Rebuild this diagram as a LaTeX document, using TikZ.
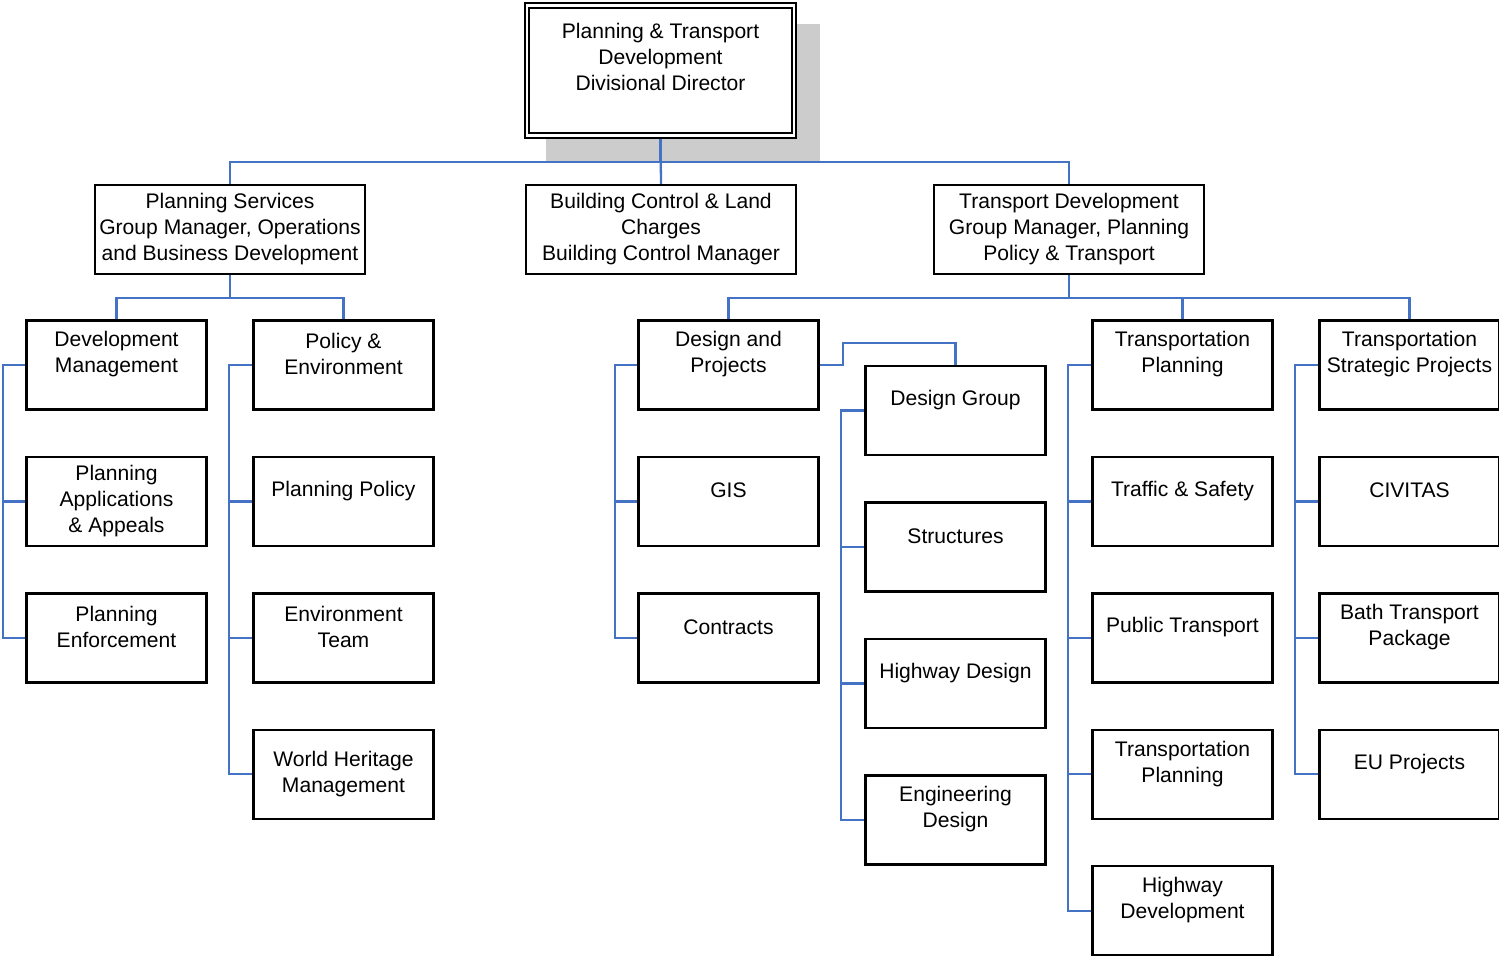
\documentclass[tikz,border=0pt]{standalone}
\usepackage{fontspec}
\setmainfont{Liberation Sans}
\usetikzlibrary{positioning, backgrounds}
\definecolor{linkblue}{RGB}{68,114,196}
\definecolor{shadegray}{RGB}{204,204,204}
\tikzset{%
  head/.style    = {draw, double, line width=1.2pt, double distance=1.4pt,
    fill=white, minimum width=5.34cm, minimum height=2.6cm},
  group/.style   = {draw, line width=1.4pt, fill=white, minimum width=5.4cm,
    minimum height=1.78cm, inner xsep=1pt, align=center},
  unit/.style    = {draw, line width=1.4pt, fill=white, minimum width=3.6cm,
    minimum height=1.78cm, inner xsep=1pt, align=center, node distance=0.9cm},
  toptext/.style = {label={[anchor=center, yshift=-0.7cm, align=center]north:{#1}}},
  link/.style    = {draw, line width=1.3pt, linkblue}
}

\begin{document}
\begin{tikzpicture}[x=0.02cm, y=-0.02cm, font=\fontsize{12pt}{14.8pt}\selectfont]

\useasboundingbox (0,0) rectangle (1499,957);

% director
\node [head, label={[anchor=center, yshift=0.27cm, align=center]center:{Planning \& Transport\\Development\\Divisional Director}}] (dir) at (660.5,70.5) {};

% group managers
\node [group] (plansvc) at (230,229.5) {Planning Services\\Group Manager, Operations\\and Business Development};
\node [group] (bldctrl) at (661,229.5) {Building Control \& Land\\Charges\\Building Control Manager};
\node [group] (trandev) at (1069,229.5) {Transport Development\\Group Manager, Planning\\Policy \& Transport};

% planning services teams
\node [unit, toptext={Development\\Management}] (devman) at (116.5,365) {};
\node [unit, below=of devman] (planapp) {Planning\\Applications\\\& Appeals};
\node [unit, toptext={Planning\\Enforcement}, below=of planapp] (planenf) {};

\node [unit, toptext={Policy \&\\Environment}] (polenv) at (343.5,365) {};
\node [unit, toptext={Planning Policy}, below=of polenv] (planpol) {};
\node [unit, toptext={Environment\\Team}, below=of planpol] (envteam) {};
\node [unit, below=of envteam] (heritage) {World Heritage\\Management};

% transport development teams
\node [unit, toptext={Design and\\Projects}] (desproj) at (728.5,365) {};
\node [unit, toptext={GIS}, below=of desproj] (gis) {};
\node [unit, toptext={Contracts}, below=of gis] (contracts) {};

\node [unit, toptext={Design Group}] (desgrp) at (955.5,410.5) {};
\node [unit, toptext={Structures}, below=of desgrp] (struct) {};
\node [unit, toptext={Highway Design}, below=of struct] (hwydes) {};
\node [unit, toptext={Engineering\\Design}, below=of hwydes] (engdes) {};

\node [unit, toptext={Transportation\\Planning}] (tranplan) at (1182.5,365) {};
\node [unit, toptext={Traffic \& Safety}, below=of tranplan] (traffic) {};
\node [unit, toptext={Public Transport}, below=of traffic] (pubtran) {};
\node [unit, toptext={Transportation\\Planning}, below=of pubtran] (tranplanb) {};
\node [unit, toptext={Highway\\Development}, below=of tranplanb] (hwydev) {};

\node [unit, toptext={Transportation\\Strategic Projects}] (stratproj) at (1409.5,365) {};
\node [unit, toptext={CIVITAS}, below=of stratproj] (civitas) {};
\node [unit, toptext={Bath Transport\\Package}, below=of civitas] (bathpkg) {};
\node [unit, toptext={EU Projects}, below=of bathpkg] (euproj) {};

\begin{pgfonlayer}{background}
  \fill [shadegray] ([xshift=0.4cm, yshift=-0.4cm]dir.north west)
    rectangle ([xshift=0.5cm, yshift=-0.5cm]dir.south east);

  \draw [link] (dir.south) -- (bldctrl.north);
  \draw [link] (dir.south) -- ++(0,25.5) -| (plansvc.north);
  \draw [link] (dir.south) -- ++(0,25.5) -| (trandev.north);

  \draw [link] (plansvc.south) -- ++(0,22.5) -| (devman.north);
  \draw [link] (plansvc.south) -- ++(0,22.5) -| (polenv.north);

  \draw [link] (trandev.south) -- ++(0,22.5) -| (desproj.north);
  \draw [link] (trandev.south) -- ++(0,22.5) -| (tranplan.north);
  \draw [link] (trandev.south) -- ++(0,22.5) -| (stratproj.north);

  \draw [link] (devman.west) -- ++(-22,0) |- (planapp.west);
  \draw [link] (devman.west) -- ++(-22,0) |- (planenf.west);

  \draw [link] (polenv.west) -- ++(-23,0) |- (planpol.west);
  \draw [link] (polenv.west) -- ++(-23,0) |- (envteam.west);
  \draw [link] (polenv.west) -- ++(-23,0) |- (heritage.west);

  \draw [link] (desproj.west) -- ++(-22,0) |- (gis.west);
  \draw [link] (desproj.west) -- ++(-22,0) |- (contracts.west);
  \draw [link] (desproj.east) -- ++(23,0) -- ++(0,-22) -| (desgrp.north);

  \draw [link] (desgrp.west) -- ++(-23,0) |- (struct.west);
  \draw [link] (desgrp.west) -- ++(-23,0) |- (hwydes.west);
  \draw [link] (desgrp.west) -- ++(-23,0) |- (engdes.west);

  \draw [link] (tranplan.west) -- ++(-23,0) |- (traffic.west);
  \draw [link] (tranplan.west) -- ++(-23,0) |- (pubtran.west);
  \draw [link] (tranplan.west) -- ++(-23,0) |- (tranplanb.west);
  \draw [link] (tranplan.west) -- ++(-23,0) |- (hwydev.west);

  \draw [link] (stratproj.west) -- ++(-23,0) |- (civitas.west);
  \draw [link] (stratproj.west) -- ++(-23,0) |- (bathpkg.west);
  \draw [link] (stratproj.west) -- ++(-23,0) |- (euproj.west);
\end{pgfonlayer}

\end{tikzpicture}
\end{document}
